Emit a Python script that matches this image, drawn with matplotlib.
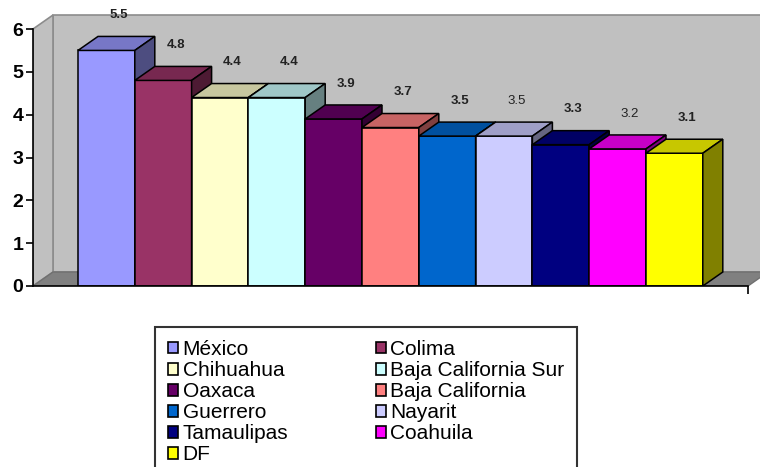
import matplotlib
matplotlib.use("Agg")
import matplotlib.pyplot as plt
from matplotlib.patches import Polygon, Patch

plt.rcParams['font.family'] = ['Liberation Sans', 'DejaVu Sans']

# data
states = ['México', 'Colima', 'Chihuahua', 'Baja California Sur', 'Oaxaca',
          'Baja California', 'Guerrero', 'Nayarit', 'Tamaulipas', 'Coahuila', 'DF']
values = [5.5, 4.8, 4.4, 4.4, 3.9, 3.7, 3.5, 3.5, 3.3, 3.2, 3.1]

# styles (classic excel palette)
front = ['#9999FF', '#993366', '#FFFFCC', '#CCFFFF', '#660066', '#FF8080',
         '#0066CC', '#CCCCFF', '#000080', '#FF00FF', '#FFFF00']
label_bold = [True, True, True, True, True, True, True, False, True, False, True]


def shade(hexcol, f):
    r, g, b = matplotlib.colors.to_rgb(hexcol)
    return (r * f, g * f, b * f)


W, H = 760, 467
fig = plt.figure(figsize=(W / 100, H / 100), dpi=100)
fig.patch.set_facecolor('white')

px_unit_y = 42.83   # pixels per value unit
px_unit_x = 56.8    # pixels per bar
x0 = (33 - 78) / px_unit_x - 0.5
ax = fig.add_axes([33 / W, (H - 286) / H, (W - 33) / W, 286 / H])
ax.set_xlim(x0, x0 + (W - 33) / px_unit_x)
ax.set_ylim(0, 286 / px_unit_y)
ax.patch.set_visible(False)

dx = 20 / px_unit_x
dy = 14 / px_unit_y
x_end = (748 - 78) / px_unit_x - 0.5
ymax = 6

wall_c = '#C0C0C0'
edge_c = '#8C8C8C'
# back wall
ax.add_patch(Polygon([(x0 + dx, dy), (x_end + dx, dy), (x_end + dx, ymax + dy),
                      (x0 + dx, ymax + dy)], closed=True, facecolor=wall_c,
                     edgecolor=edge_c, lw=1.2, zorder=0))
# side wall
ax.add_patch(Polygon([(x0, 0), (x0 + dx, dy), (x0 + dx, ymax + dy), (x0, ymax)],
                     closed=True, facecolor=wall_c, edgecolor=edge_c, lw=1.2, zorder=0))
# floor
ax.add_patch(Polygon([(x0, 0), (x_end, 0), (x_end + dx, dy), (x0 + dx, dy)],
                     closed=True, facecolor='#808080', edgecolor='#707070', lw=1.0, zorder=0.5))

for i, (v, c) in enumerate(zip(values, front)):
    z = 2 + i
    ax.bar(i, v, width=1.0, color=c, edgecolor='black', linewidth=1.1, zorder=z)
    top = [(i - 0.5, v), (i + 0.5, v), (i + 0.5 + dx, v + dy), (i - 0.5 + dx, v + dy)]
    side = [(i + 0.5, 0), (i + 0.5 + dx, dy), (i + 0.5 + dx, v + dy), (i + 0.5, v)]
    ax.add_patch(Polygon(top, closed=True, facecolor=shade(c, 0.78),
                         edgecolor='black', lw=1.1, zorder=z))
    ax.add_patch(Polygon(side, closed=True, facecolor=shade(c, 0.5),
                         edgecolor='black', lw=1.1, zorder=z))
    ax.text(i + 0.22, v + dy + 0.5, f'{v:.1f}', ha='center', va='center',
            fontsize=9.5, fontweight='bold' if label_bold[i] else 'normal',
            color='#222222', zorder=20)

for s in ['top', 'right']:
    ax.spines[s].set_visible(False)
ax.spines['left'].set_bounds(0, ymax)
ax.spines['bottom'].set_bounds(x0, x_end)
ax.spines['left'].set_linewidth(1.2)
ax.spines['bottom'].set_linewidth(1.2)
ax.spines['left'].set_zorder(30)
ax.spines['bottom'].set_zorder(30)

ax.set_yticks(range(0, 7))
ax.set_yticklabels([str(t) for t in range(0, 7)], fontsize=14, fontweight='bold')
ax.tick_params(axis='y', length=5, width=1.2, pad=2)
ax.set_xticks([x_end])
ax.set_xticklabels([''])
ax.tick_params(axis='x', length=6, width=1.2, direction='out')

# legend, row-wise ordering across 2 columns
handles = [Patch(facecolor=c, edgecolor='black', linewidth=1.2) for c in front]
order = list(range(0, len(states), 2)) + list(range(1, len(states), 2))
leg = fig.legend([handles[k] for k in order], [states[k] for k in order],
                 ncol=2, loc='upper left', bbox_to_anchor=(155 / W, 1 - 327 / H),
                 fontsize=15, frameon=True, fancybox=False, edgecolor='black',
                 handlelength=0.5, handleheight=0.5, handletextpad=0.2,
                 labelspacing=0.1, columnspacing=4.2, borderpad=0.62,
                 borderaxespad=0)
leg.get_frame().set_linewidth(1.5)

fig.savefig('out.png', dpi=100)
